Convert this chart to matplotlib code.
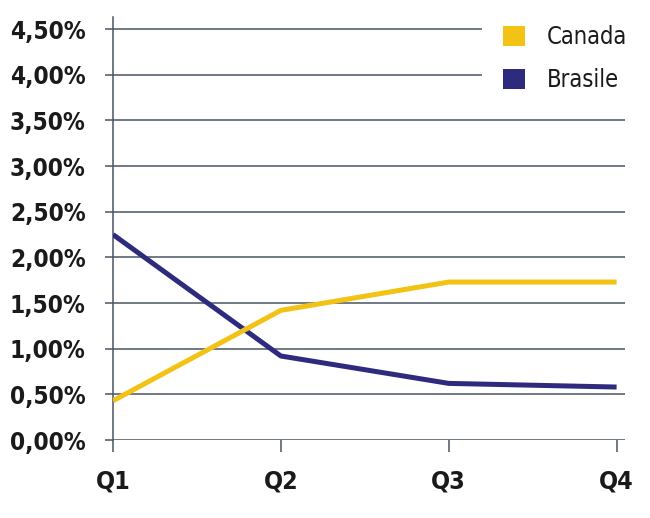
import matplotlib.pyplot as plt
from matplotlib import font_manager
from matplotlib.patches import Patch

quarters = ["Q1", "Q2", "Q3", "Q4"]
canada = [0.43, 1.42, 1.73, 1.73]
brasile = [2.25, 0.92, 0.62, 0.58]
y_ticks = [0, 0.5, 1, 1.5, 2, 2.5, 3, 3.5, 4, 4.5]
y_labels = ["0,00%", "0,50%", "1,00%", "1,50%", "2,00%",
            "2,50%", "3,00%", "3,50%", "4,00%", "4,50%"]

yellow = "#f2c314"
navy = "#2e2a7e"
grid_col = "#4a5566"


def condensed_font(bold):
    # look for an upright narrow/condensed face, else plain DejaVu Sans
    found = []
    for f in font_manager.fontManager.ttflist:
        narrow = ("Narrow" in f.name or "Condensed" in f.name
                  or f.stretch in ("condensed", "semi-condensed", 600, 700))
        is_bold = f.weight in ("bold", 700, "semibold", 600, "heavy")
        if narrow and is_bold == bold and f.style == "normal":
            found.append(f.fname)
    if found:
        found.sort()
        return font_manager.FontProperties(fname=found[0]), True
    w = "bold" if bold else "normal"
    return font_manager.FontProperties(family="DejaVu Sans", weight=w), False


bold_fp, ok_b = condensed_font(True)
reg_fp, ok_r = condensed_font(False)
ytick_size = 17.5 if ok_b else 14
xtick_size = 18 if ok_b else 14.5
leg_size = 17 if ok_r else 14

fig = plt.figure(figsize=(6.5, 5.18), dpi=100)
ax = fig.add_axes([113 / 650, 1 - 440 / 518, 512 / 650, 423 / 518])

x = range(len(quarters))
ax.plot(x, brasile, color=navy, lw=3.6, solid_capstyle="butt", zorder=3)
ax.plot(x, canada, color=yellow, lw=3.6, solid_capstyle="butt", zorder=4)

ax.set_xlim(0, 3.05)
ax.set_ylim(0, 4.633)
ax.set_xticks(list(x))
ax.set_xticklabels(quarters, color="#1a1a1a")
ax.set_yticks(y_ticks)
ax.set_yticklabels(y_labels, color="#1a1a1a")
for t in ax.get_xticklabels():
    t.set_fontproperties(bold_fp)
    t.set_fontsize(xtick_size)
for t in ax.get_yticklabels():
    t.set_fontproperties(bold_fp)
    t.set_fontsize(ytick_size)

ax.grid(axis="y", color=grid_col, lw=1.1)
ax.set_axisbelow(True)
for s in ["top", "right", "bottom"]:
    ax.spines[s].set_visible(False)
ax.spines["left"].set_color(grid_col)
ax.spines["left"].set_linewidth(1.1)
ax.tick_params(axis="y", direction="out", length=5.8, width=1.1,
               color=grid_col, pad=14)
ax.tick_params(axis="x", direction="out", length=8.6, width=1.1,
               color=grid_col, pad=13)

handles = [Patch(facecolor=yellow, edgecolor="none", label="Canada"),
           Patch(facecolor=navy, edgecolor="none", label="Brasile")]
leg_fp = reg_fp.copy()
leg_fp.set_size(leg_size)
leg = ax.legend(handles=handles, loc="upper left",
                bbox_to_anchor=(482 / 650, 1 - 4 / 518),
                bbox_transform=fig.transFigure,
                borderaxespad=0, frameon=True, fancybox=False, prop=leg_fp,
                handlelength=0.92, handleheight=0.92, handletextpad=0.92,
                labelspacing=0.8, borderpad=0.9)
leg.get_frame().set_facecolor("white")
leg.get_frame().set_edgecolor("none")
leg.get_frame().set_alpha(1)
for t in leg.get_texts():
    t.set_color("#1a1a1a")

fig.savefig("out.png", dpi=100)
